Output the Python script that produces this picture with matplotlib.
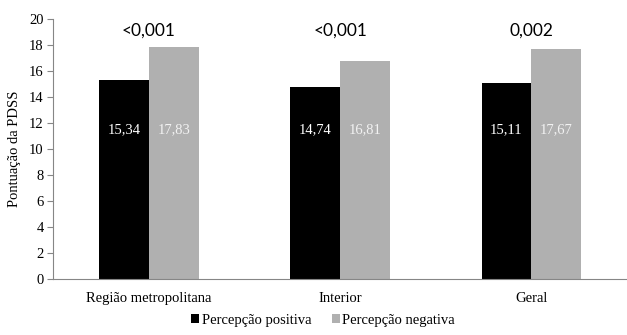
import matplotlib
matplotlib.use("Agg")
import matplotlib.pyplot as plt
import numpy as np

# Data
categories = ["Região metropolitana", "Interior", "Geral"]
positiva = [15.34, 14.74, 15.11]
negativa = [17.83, 16.81, 17.67]
p_values = ["<0,001", "<0,001", "0,002"]
series_names = ["Percepção positiva", "Percepção negativa"]

SERIF = "Liberation Serif"
SANS = "Lato"

fig = plt.figure(figsize=(6.27, 3.35), dpi=100)
ax = fig.add_axes([0.085, 0.167, 0.915, 0.776])

x = np.arange(len(categories))
w = 0.26
b1 = ax.bar(x - w / 2, positiva, w, color="#000000", label=series_names[0])
b2 = ax.bar(x + w / 2, negativa, w, color="#b0b0b0", label=series_names[1])

def fmt(v):
    return f"{v:.2f}".replace(".", ",")

# value labels inside the bars
for xi, v in zip(x, positiva):
    ax.text(xi - w / 2, 11.5, fmt(v), ha="center", va="center", color="white",
            fontsize=10.5, family=SERIF)
for xi, v in zip(x, negativa):
    ax.text(xi + w / 2, 11.5, fmt(v), ha="center", va="center", color="#f2f2f2",
            fontsize=10.5, family=SERIF)

# p-values above each group
for xi, p in zip(x, p_values):
    ax.text(xi, 19.15, p, ha="center", va="center", fontsize=12.5, family=SANS)

ax.set_xlim(-0.5, 2.5)
ax.set_ylim(0, 20)
ax.set_yticks(range(0, 21, 2))
ax.set_yticklabels([str(t) for t in range(0, 21, 2)], family=SERIF, fontsize=10.5)
ax.set_xticks(x)
ax.set_xticklabels(categories, family=SERIF, fontsize=10.5)
ax.tick_params(axis="x", length=0, pad=9)
ax.tick_params(axis="y", length=4, color="#868686", pad=3)
ax.set_ylabel("Pontuação da PDSS", family=SERIF, fontsize=10.5, labelpad=6)

for s in ["top", "right"]:
    ax.spines[s].set_visible(False)
for s in ["left", "bottom"]:
    ax.spines[s].set_color("#868686")

fig.legend(handles=[b1, b2], loc="lower center", bbox_to_anchor=(0.515, -0.015), ncol=2,
           frameon=False, prop={"family": SERIF, "size": 10.5},
           handlelength=0.55, handleheight=0.55, handletextpad=0.2, columnspacing=1.4)

fig.savefig("out.png", dpi=100)
